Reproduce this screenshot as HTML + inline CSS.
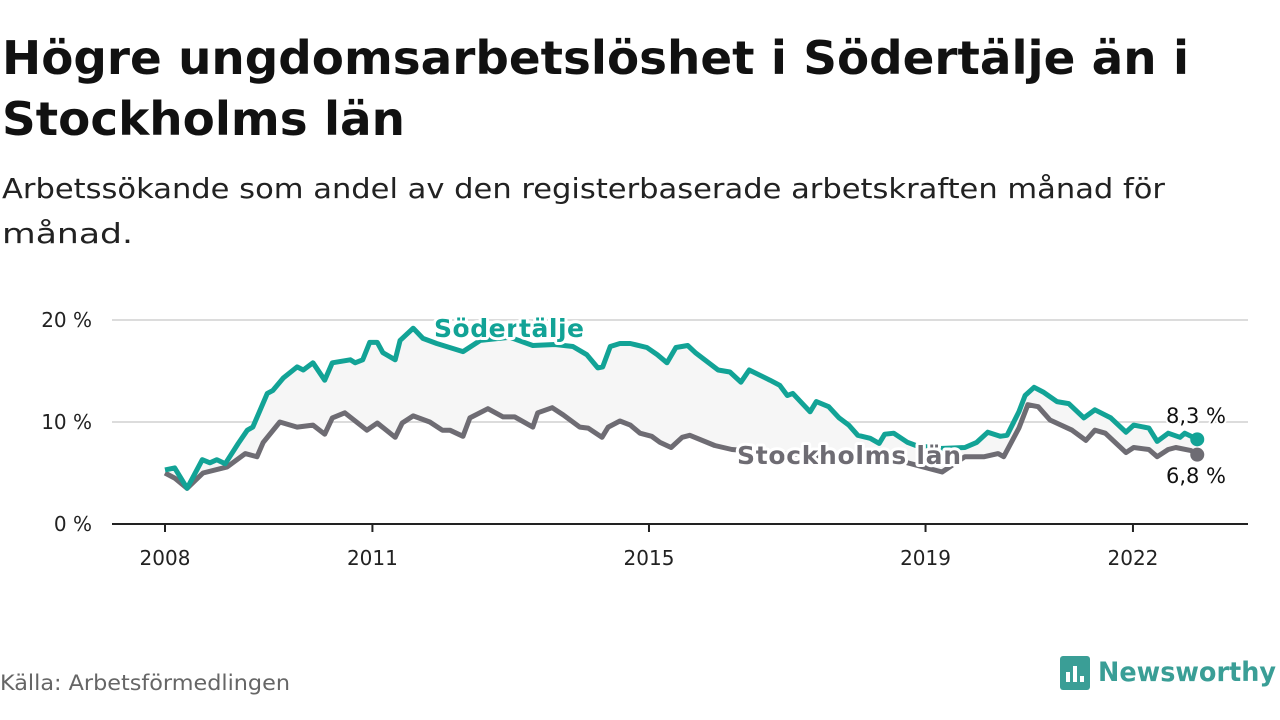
<!DOCTYPE html>
<html><head><meta charset="utf-8"><style>
html,body{margin:0;padding:0;background:#fff;}
svg{display:block;font-family:"DejaVu Sans","Liberation Sans",sans-serif;}
</style></head><body>
<svg id="chart" width="1280" height="720" viewBox="0 0 1280 720" xmlns="http://www.w3.org/2000/svg">
<text x="2" y="74" font-size="46" font-weight="bold" fill="#111" textLength="1187" lengthAdjust="spacingAndGlyphs">Högre ungdomsarbetslöshet i Södertälje än i</text>
<text x="2" y="135" font-size="46" font-weight="bold" fill="#111" textLength="403" lengthAdjust="spacingAndGlyphs">Stockholms län</text>
<text x="2" y="198" font-size="28" fill="#222" textLength="1163" lengthAdjust="spacingAndGlyphs">Arbetssökande som andel av den registerbaserade arbetskraften månad för</text>
<text x="2" y="243" font-size="28" fill="#222" textLength="131" lengthAdjust="spacingAndGlyphs">månad.</text>
<g id="grid"></g>
<g id="plot"></g>
<g id="labels"></g>
<text x="0" y="690" font-size="21" fill="#666" textLength="290" lengthAdjust="spacingAndGlyphs">Källa: Arbetsförmedlingen</text>
<g>
<rect x="1060" y="656" width="30" height="34" rx="3" fill="#3a9e96"/>
<rect x="1066" y="672" width="4" height="10" fill="#fff"/>
<rect x="1073" y="666" width="4" height="16" fill="#fff"/>
<rect x="1080" y="676" width="4" height="6" fill="#fff"/>
<text x="1098" y="681" font-size="27" font-weight="bold" fill="#3a9e96" textLength="178" lengthAdjust="spacingAndGlyphs">Newsworthy</text>
</g>
</svg>
<script>
const yTicks = [0, 10, 20];
const yTickLabels = ["0 %", "10 %", "20 %"];
const xTicks = [2008, 2011, 2015, 2019, 2022];
const sodDates = [2008.0,2008.14,2008.32,2008.54,2008.65,2008.75,2008.87,2009.06,2009.19,2009.27,2009.48,2009.56,2009.71,2009.91,2010.0,2010.14,2010.31,2010.42,2010.68,2010.75,2010.86,2010.96,2011.07,2011.15,2011.33,2011.4,2011.59,2011.73,2011.93,2012.31,2012.56,2012.99,2013.32,2013.64,2013.9,2014.1,2014.26,2014.33,2014.44,2014.58,2014.73,2014.97,2015.12,2015.26,2015.39,2015.56,2015.67,2016.0,2016.17,2016.33,2016.45,2016.75,2016.89,2017.0,2017.08,2017.33,2017.42,2017.6,2017.75,2017.89,2018.02,2018.2,2018.33,2018.41,2018.54,2018.74,2018.86,2019.21,2019.57,2019.74,2019.9,2020.08,2020.18,2020.35,2020.44,2020.57,2020.71,2020.9,2021.07,2021.29,2021.45,2021.68,2021.9,2022.01,2022.23,2022.35,2022.51,2022.68,2022.75,2022.93];
const sodValues = [5.3,5.5,3.5,6.3,6.0,6.3,5.9,7.9,9.2,9.5,12.8,13.1,14.3,15.4,15.1,15.8,14.1,15.8,16.1,15.8,16.1,17.8,17.8,16.8,16.1,18.0,19.2,18.2,17.7,16.9,18.0,18.3,17.5,17.6,17.4,16.6,15.3,15.4,17.4,17.7,17.7,17.3,16.6,15.8,17.3,17.5,16.8,15.1,14.9,13.9,15.1,14.1,13.6,12.6,12.8,11.0,12.0,11.5,10.4,9.7,8.7,8.4,7.9,8.8,8.9,8.0,7.7,7.4,7.5,8.0,9.0,8.6,8.7,11.0,12.6,13.4,12.9,12.0,11.8,10.4,11.2,10.4,9.0,9.7,9.4,8.1,8.9,8.5,8.9,8.3];
const sthDates = [2008.0,2008.14,2008.32,2008.55,2008.9,2009.16,2009.33,2009.42,2009.66,2009.91,2010.14,2010.31,2010.42,2010.6,2010.92,2011.07,2011.33,2011.43,2011.59,2011.83,2012.01,2012.12,2012.31,2012.41,2012.67,2012.89,2013.06,2013.32,2013.39,2013.6,2013.76,2014.0,2014.12,2014.32,2014.41,2014.58,2014.73,2014.87,2015.04,2015.16,2015.32,2015.48,2015.59,2015.95,2016.2,2016.61,2017.18,2017.91,2018.63,2019.24,2019.57,2019.85,2020.05,2020.13,2020.35,2020.48,2020.63,2020.8,2021.12,2021.32,2021.45,2021.6,2021.9,2022.01,2022.23,2022.35,2022.51,2022.62,2022.84,2022.93];
const sthValues = [5.0,4.5,3.5,5.0,5.6,6.9,6.6,8.0,10.0,9.5,9.7,8.8,10.4,10.9,9.2,9.9,8.5,9.9,10.6,10.0,9.2,9.2,8.6,10.4,11.3,10.5,10.5,9.5,10.9,11.4,10.7,9.5,9.4,8.5,9.5,10.1,9.7,8.9,8.6,8.0,7.5,8.5,8.7,7.7,7.3,7.1,6.8,6.5,6.2,5.1,6.6,6.6,6.9,6.6,9.4,11.7,11.5,10.2,9.2,8.2,9.2,8.9,7.0,7.5,7.3,6.6,7.3,7.5,7.2,6.8];

const NS = "http://www.w3.org/2000/svg";
const X0 = 165, YEARPX = 69.14, Y0 = 524, PCTPX = 10.2;
function xScale(t){ return X0 + (t - 2008) * YEARPX; }
function yScale(v){ return Y0 - v * PCTPX; }
function mk(tag, attrs, parent){ const e = document.createElementNS(NS, tag); for (const k in attrs) e.setAttribute(k, attrs[k]); parent.appendChild(e); return e; }

const grid = document.getElementById('grid');
const plot = document.getElementById('plot');
const labels = document.getElementById('labels');

yTicks.forEach((v, i) => {
  if (v > 0) {
    const g = mk('line', {x1:112, x2:1248, y1:yScale(v), y2:yScale(v), stroke:'#dcdcdc', 'stroke-width':2}, grid);
    
    
  }
  const t = mk('text', {x:92, y:yScale(v)+7, 'text-anchor':'end', 'font-size':20, fill:'#222'}, grid);
  t.textContent = yTickLabels[i];
  
  
});
const ax = mk('line', {x1:112, x2:1248, y1:Y0, y2:Y0, stroke:'#222', 'stroke-width':2}, grid);


xTicks.forEach(yr => {
  const tk = mk('line', {x1:xScale(yr), x2:xScale(yr), y1:Y0, y2:Y0+8, stroke:'#222', 'stroke-width':2}, grid);
  
  
  const t = mk('text', {x:xScale(yr), y:Y0+41, 'text-anchor':'middle', 'font-size':20, fill:'#222'}, grid);
  t.textContent = yr;
  
  
});

function pts(d, v){ return d.map((t, i) => xScale(t).toFixed(1) + ',' + yScale(v[i]).toFixed(1)); }
const sp = pts(sodDates, sodValues), gp = pts(sthDates, sthValues);
const area = mk('polygon', {points: sp.concat(gp.slice().reverse()).join(' '), fill:'#f6f6f6'}, plot);


const gl = mk('polyline', {points: gp.join(' '), fill:'none', stroke:'#6e6c73', 'stroke-width':5, 'stroke-linejoin':'round'}, plot);


const sl = mk('polyline', {points: sp.join(' '), fill:'none', stroke:'#12a396', 'stroke-width':5, 'stroke-linejoin':'round'}, plot);



const sLast = sodValues.length - 1, gLast = sthValues.length - 1;
const d1 = mk('circle', {cx:xScale(sodDates[sLast]), cy:yScale(sodValues[sLast]), r:7, fill:'#12a396'}, plot);


const d2 = mk('circle', {cx:xScale(sthDates[gLast]), cy:yScale(sthValues[gLast]), r:7, fill:'#6e6c73'}, plot);



function lbl(txt, x, y, fill, bold, name, size){
  const t = mk('text', {x:x, y:y, 'text-anchor':'middle', 'font-size':size, 'font-weight':bold?'bold':'normal', fill:fill, stroke:'#fff', 'stroke-width':bold?6:4, 'paint-order':'stroke', 'stroke-linejoin':'round'}, labels);
  t.textContent = txt;
  
  
  return t;
}
lbl(sodValues[sLast].toFixed(1).replace('.', ',') + ' %', 1196, 423, '#111', false, 'sodertalje-end-value', 21);
lbl(sthValues[gLast].toFixed(1).replace('.', ',') + ' %', 1196, 483, '#111', false, 'stockholm-end-value', 21);
const s1 = lbl('Södertälje', 509, 337, '#12a396', true, 'sodertalje-label', 25);
s1.setAttribute('textLength', '150');
const s2 = lbl('Stockholms län', 849, 464, '#6e6c73', true, 'stockholm-label', 25);
s2.setAttribute('textLength', '224');
</script>
</body></html>
